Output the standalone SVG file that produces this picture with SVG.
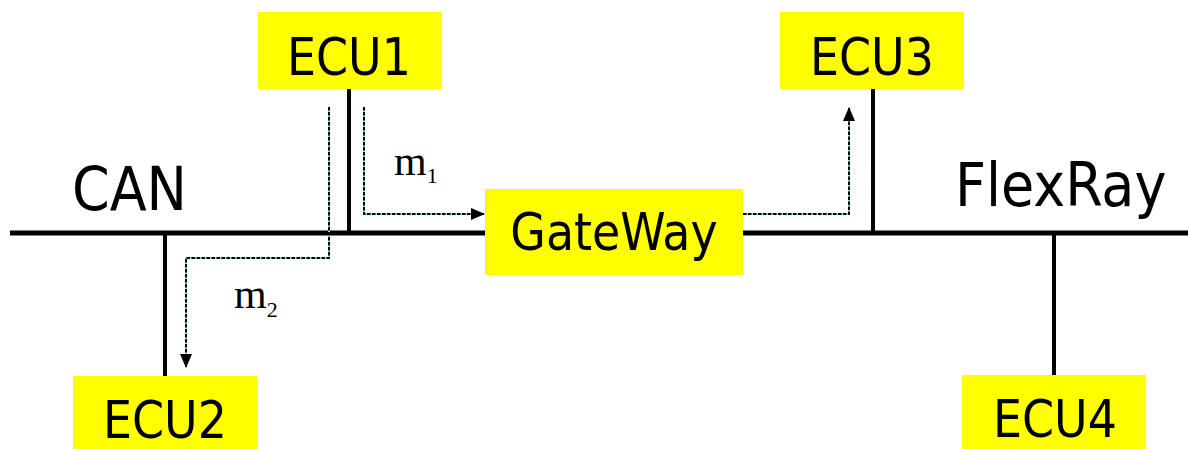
<svg xmlns="http://www.w3.org/2000/svg" width="1188" height="449" viewBox="0 0 1188 449">
<style>
.box{fill:#ffff00}
.lbl{font-family:"DejaVu Sans Condensed","DejaVu Sans",sans-serif;font-size:51px;fill:#000;text-anchor:middle}
.bus{font-family:"DejaVu Sans Condensed","DejaVu Sans",sans-serif;font-size:60px;fill:#000}
.wire{stroke:#000;stroke-width:4;fill:none}
.busline{stroke:#000;stroke-width:5;fill:none}
.dbase{stroke:#7fe8e0;stroke-width:2;fill:none}
.dash{stroke:#000;stroke-width:2;fill:none;stroke-dasharray:3.5 1.5}
.msg{font-family:"Liberation Serif","Times New Roman",serif;font-size:42px;fill:#000}
</style>
<defs>
<marker id="ah" markerWidth="14" markerHeight="12" refX="13" refY="6" orient="auto" markerUnits="userSpaceOnUse">
<path d="M0,0 L14,6 L0,12 Z" fill="#000"/>
</marker>
</defs>
<g id="buses">
<line class="busline" x1="10" y1="233" x2="1188" y2="233"/>
<text class="bus" x="72" y="210">CAN</text>
<text class="bus" x="955" y="206">FlexRay</text>
</g>
<g id="connectors">
<line class="wire" x1="349" y1="89" x2="349" y2="233"/>
<line class="wire" x1="165" y1="233" x2="165" y2="376"/>
<line class="wire" x1="873" y1="89" x2="873" y2="233"/>
<line class="wire" x1="1054" y1="233" x2="1054" y2="375"/>
<path class="dbase" d="M364,107 V214 H484"/>
<path class="dash" d="M364,107 V214 H484" marker-end="url(#ah)"/>
<path class="dbase" d="M329,107 V258 H186 V367"/>
<path class="dash" d="M329,107 V258 H186 V367" marker-end="url(#ah)"/>
<path class="dbase" d="M743,214 H849 V108"/>
<path class="dash" d="M743,214 H849 V108" marker-end="url(#ah)"/>
<text class="msg" x="394" y="175">m<tspan font-size="22" dy="8">1</tspan></text>
<text class="msg" x="234" y="308">m<tspan font-size="22" dy="9">2</tspan></text>
</g>
<g id="ecu1">
<rect class="box" x="258" y="12" width="184" height="77"/>
<text class="lbl" x="349" y="75">ECU1</text>
</g>
<g id="ecu2">
<rect class="box" x="73" y="376" width="184" height="73"/>
<text class="lbl" x="165" y="438">ECU2</text>
</g>
<g id="ecu3">
<rect class="box" x="780" y="12" width="184" height="77"/>
<text class="lbl" x="872" y="75">ECU3</text>
</g>
<g id="ecu4">
<rect class="box" x="962" y="375" width="184" height="74"/>
<text class="lbl" x="1055" y="437">ECU4</text>
</g>
<g id="gateway">
<rect class="box" x="485" y="189" width="258" height="86"/>
<text class="lbl" x="614" y="250">GateWay</text>
</g>
</svg>
